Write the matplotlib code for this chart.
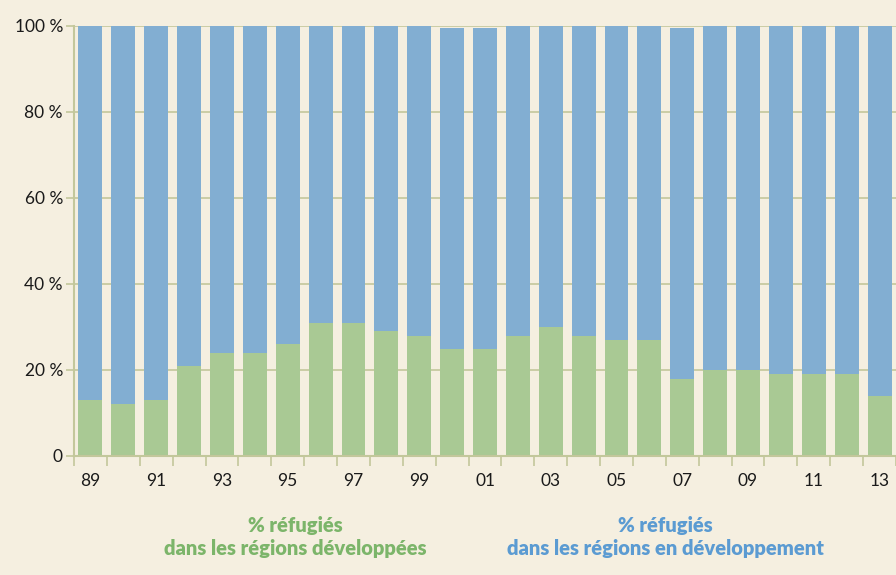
import numpy as np
import matplotlib.pyplot as plt

# years 1989 - 2013
years = list(range(1989, 2014))
pct_developed = [13, 12, 13, 21, 24, 24, 26, 31, 31, 29, 28, 25, 25, 28, 30, 28, 27, 27, 18, 20, 20, 19, 19, 19, 14]
pct_developing = [87, 88, 87, 79, 76, 76, 74, 69, 69, 71, 72, 74.6, 74.6, 72, 70, 72, 73, 73, 81.6, 80, 80, 81, 81, 81, 86]
x_labels = ["89", "91", "93", "95", "97", "99", "01", "03", "05", "07", "09", "11", "13"]
y_ticks = [0, 20, 40, 60, 80, 100]
y_labels = ["0", "20 %", "40 %", "60 %", "80 %", "100 %"]

bg = "#f5efe0"
green = "#a9c994"
blue = "#82aed2"
olive = "#c3c79b"

plt.rcParams['font.family'] = ['Lato', 'DejaVu Sans']

fig = plt.figure(figsize=(8.96, 5.75), dpi=100, facecolor=bg)
ax = fig.add_axes([74 / 896, 119 / 575, 822 / 896, 430 / 575])
ax.set_facecolor(bg)

x = np.arange(len(years))
w = 24 / 33
ax.bar(x, pct_developed, width=w, color=green, zorder=2)
ax.bar(x, pct_developing, width=w, bottom=pct_developed, color=blue, zorder=2)

ax.set_xlim(-0.5, -0.5 + 822 / 33)
ax.set_ylim(0, 100)

ax.set_yticks(y_ticks)
ax.set_yticklabels(y_labels, fontsize=12.5, color="#1a1a1a")
ax.yaxis.grid(True, color=olive, linewidth=1.2, zorder=0)
ax.tick_params(axis="y", length=6, width=1.2, color=olive, pad=2)

ax.set_xticks(x[::2])
ax.set_xticklabels(x_labels, fontsize=12.5, color="#1a1a1a")
ax.tick_params(axis="x", which="major", length=0, pad=12)
ax.set_xticks(np.arange(-0.5, len(years), 1), minor=True)
ax.tick_params(axis="x", which="minor", length=7, width=1.2, color=olive)

for s in ["top", "right"]:
    ax.spines[s].set_visible(False)
for s in ["left", "bottom"]:
    ax.spines[s].set_color(olive)
    ax.spines[s].set_linewidth(1.5)
ax.set_axisbelow(True)

fig.text(295 / 896, 1 - 537 / 575, "% réfugiés\ndans les régions développées",
         ha="center", va="center", fontsize=14.5, fontweight="heavy",
         color="#7cb56a", linespacing=1.3)
fig.text(665 / 896, 1 - 537 / 575, "% réfugiés\ndans les régions en développement",
         ha="center", va="center", fontsize=14.5, fontweight="heavy",
         color="#5b9bd2", linespacing=1.3)

fig.savefig("out.png", dpi=100, facecolor=bg)
